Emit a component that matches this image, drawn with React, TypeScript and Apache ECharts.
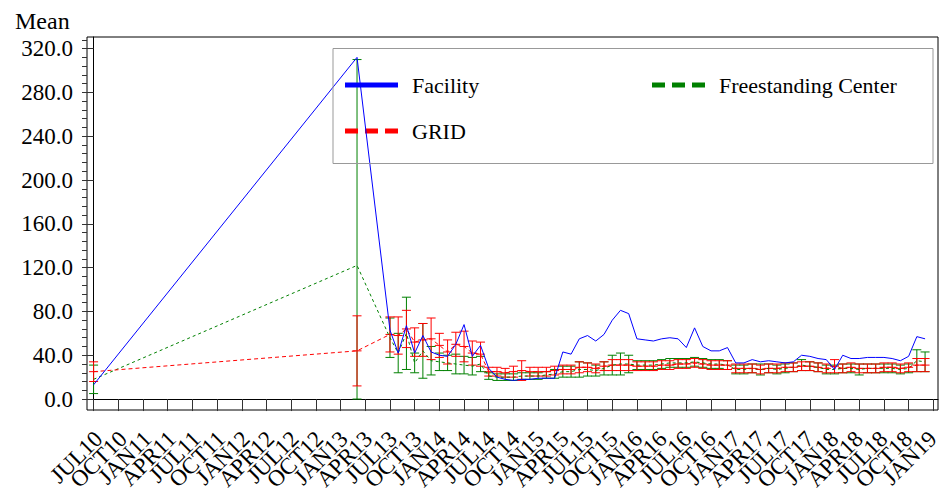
import { useEffect, useRef } from "react";
import * as echarts from "echarts";

// quarterly tick labels, one every three months from JUL10
const quarterLabels = [
  "JUL10", "OCT10",
  "JAN11", "APR11", "JUL11", "OCT11",
  "JAN12", "APR12", "JUL12", "OCT12",
  "JAN13", "APR13", "JUL13", "OCT13",
  "JAN14", "APR14", "JUL14", "OCT14",
  "JAN15", "APR15", "JUL15", "OCT15",
  "JAN16", "APR16", "JUL16", "OCT16",
  "JAN17", "APR17", "JUL17", "OCT17",
  "JAN18", "APR18", "JUL18", "OCT18",
  "JAN19",
];

// months with an observation
const obsMonths = [
  "2010-07", "2013-03",
  "2013-07", "2013-08", "2013-09", "2013-10", "2013-11", "2013-12",
  "2014-01", "2014-02", "2014-03", "2014-04", "2014-05", "2014-06", "2014-07", "2014-08", "2014-09", "2014-10", "2014-11", "2014-12",
  "2015-01", "2015-02", "2015-03", "2015-04", "2015-05", "2015-06", "2015-07", "2015-08", "2015-09", "2015-10", "2015-11", "2015-12",
  "2016-01", "2016-02", "2016-03", "2016-04", "2016-05", "2016-06", "2016-07", "2016-08", "2016-09", "2016-10", "2016-11", "2016-12",
  "2017-01", "2017-02", "2017-03", "2017-04", "2017-05", "2017-06", "2017-07", "2017-08", "2017-09", "2017-10", "2017-11", "2017-12",
  "2018-01", "2018-02", "2018-03", "2018-04", "2018-05", "2018-06", "2018-07", "2018-08", "2018-09", "2018-10", "2018-11", "2018-12",
];

const facility = [
  13, 312,
  63, 42, 67, 42, 58, 43,
  40, 39, 50, 68, 39, 49, 28, 20, 18, 17, 18, 18,
  19, 19, 19, 43, 41, 55, 58, 53, 59, 72, 81, 78,
  55, 54, 53, 55, 56, 55, 47, 65, 48, 44, 44, 47,
  33, 33, 36, 34, 35, 34, 33, 34, 40, 39, 37, 36,
  27, 40, 37, 37, 38, 38, 38, 37, 35, 39, 57, 55,
];

const grid = [
  25, 44,
  59, 58, 64, 52, 54, 55,
  49, 43, 50, 48, 42, 41, 25, 25, 24, 25, 26, 25,
  25, 25, 26, 27, 27, 29, 29, 28, 30, 31, 31, 31,
  30, 30, 30, 31, 31, 32, 32, 33, 32, 31, 31, 31,
  28, 28, 28, 27, 28, 28, 29, 29, 30, 30, 29, 28,
  30, 28, 29, 28, 28, 28, 29, 29, 28, 29, 31, 31,
];
const gridHalf = [
  9, 32,
  16, 17, 17, 13, 15, 19,
  11, 11, 11, 14, 11, 11, 4, 4, 4, 5, 9, 4,
  4, 4, 4, 4, 4, 5, 4, 4, 4, 5, 5, 5,
  4, 4, 4, 4, 4, 4, 4, 4, 4, 4, 4, 4,
  4, 4, 4, 4, 4, 4, 4, 4, 4, 4, 4, 4,
  6, 4, 4, 4, 4, 4, 4, 4, 4, 4, 6, 6,
];

const freestanding = [
  18, 122,
  56, 42, 60, 33, 44, 35,
  34, 33, 32, 31, 30, 32, 21, 20, 20, 20, 21, 21,
  21, 22, 23, 25, 25, 27, 27, 26, 28, 31, 32, 32,
  31, 31, 31, 32, 33, 33, 33, 34, 33, 32, 32, 31,
  27, 27, 28, 27, 28, 27, 28, 29, 31, 30, 29, 27,
  27, 28, 28, 27, 28, 28, 28, 28, 27, 28, 35, 34,
];
const freestandingHalf = [
  13, 188,
  18, 18, 33, 9, 25, 13,
  8, 7, 9, 8, 8, 7, 3, 3, 3, 3, 3, 3,
  3, 3, 4, 5, 5, 7, 6, 5, 6, 9, 10, 8,
  4, 4, 4, 4, 4, 4, 4, 4, 4, 4, 4, 4,
  4, 4, 4, 5, 4, 4, 4, 4, 5, 4, 4, 4,
  4, 4, 4, 5, 4, 4, 4, 4, 4, 4, 10, 9,
];

const yTicks = [0, 40, 80, 120, 160, 200, 240, 280, 320];
const yMinorTicks = [
  0, 8, 16, 24, 32, 40, 48, 56, 64, 72, 80, 88, 96, 104, 112, 120, 128, 136, 144, 152, 160,
  168, 176, 184, 192, 200, 208, 216, 224, 232, 240, 248, 256, 264, 272, 280, 288, 296, 304, 312, 320, 328,
];

const FONT = '"Liberation Serif", "Times New Roman", serif';
const SOLID_ICON = "path://M0,0H53V5H0Z";
const DASH_ICON = "path://M0,0H13V5H0Z M20,0H33V5H20Z M40,0H53V5H40Z";
const X_MIN = -0.8;
const X_MAX = 102.57;

function monthIndex(ym: string) {
  const [y, m] = ym.split("-").map(Number);
  return (y - 2010) * 12 + (m - 7);
}

function errorBars(color: string, withMid: boolean) {
  return (_params: any, api: any) => {
    const x = api.value(0);
    const lo = api.coord([x, api.value(1)]);
    const hi = api.coord([x, api.value(2)]);
    const mid = api.coord([x, api.value(3)]);
    const w = 4.5;
    const style = { stroke: color, lineWidth: 1 };
    const children: any[] = [
      { type: "line", shape: { x1: lo[0], y1: lo[1], x2: hi[0], y2: hi[1] }, style },
      { type: "line", shape: { x1: lo[0] - w, y1: lo[1], x2: lo[0] + w, y2: lo[1] }, style },
      { type: "line", shape: { x1: hi[0] - w, y1: hi[1], x2: hi[0] + w, y2: hi[1] }, style },
    ];
    if (withMid) {
      children.push({ type: "line", shape: { x1: mid[0] - w, y1: mid[1], x2: mid[0] + w, y2: mid[1] }, style });
    }
    return { type: "group", children };
  };
}

function buildOption(): echarts.EChartsOption {
  const xs = obsMonths.map(monthIndex);
  const pairs = (vals: number[]) => xs.map((x, i) => [x, vals[i]]);
  const bars = (vals: number[], half: number[]) =>
    xs.map((x, i) => [x, Math.max(0, vals[i] - half[i]), vals[i] + half[i], vals[i]]);
  const quarterPos = quarterLabels.map((_, k) => k * 3);

  const legendBase = {
    orient: "horizontal" as const,
    padding: 0,
    itemWidth: 53,
    itemHeight: 5,
    selectedMode: false,
    symbolKeepAspect: false,
    textStyle: { fontFamily: FONT, fontSize: 22, color: "#000", padding: [0, 0, 0, 9] },
  };

  return {
    animation: false,
    backgroundColor: "#fff",
    title: {
      text: "Mean",
      left: 10,
      top: 4,
      textStyle: { fontFamily: FONT, fontSize: 24, fontWeight: "normal", color: "#000" },
    },
    grid: [
      {
        left: 87,
        right: 5,
        top: 37,
        bottom: 84,
        show: true,
        borderColor: "#000",
        borderWidth: 1,
        backgroundColor: "transparent",
      },
      // same scale, nudged right: carries only the rotated month labels
      { left: 92, right: 0, top: 37, bottom: 84, show: false },
    ],
    legend: [
      { ...legendBase, data: [{ name: "Facility", icon: SOLID_ICON }], left: 345, top: 74 },
      { ...legendBase, data: [{ name: "Freestanding Center", icon: DASH_ICON }], left: 652, top: 74 },
      { ...legendBase, data: [{ name: "GRID", icon: DASH_ICON }], left: 345, top: 120 },
    ],
    graphic: [
      {
        type: "rect",
        shape: { x: 333, y: 48.5, width: 600, height: 115 },
        style: { fill: "none", stroke: "#999", lineWidth: 1 },
        silent: true,
        z: 10,
      },
    ],
    xAxis: [
      {
        type: "value",
        gridIndex: 0,
        min: X_MIN,
        max: X_MAX,
        axisLine: { show: true, lineStyle: { color: "#000", width: 1 } },
        axisTick: { show: true, length: 12, customValues: quarterPos, lineStyle: { color: "#333" } },
        axisLabel: { show: false },
        splitLine: { show: false },
      },
      {
        type: "value",
        gridIndex: 1,
        min: X_MIN,
        max: X_MAX,
        axisLine: { show: false },
        axisTick: { show: false },
        axisLabel: {
          // blank end labels keep ECharts from dropping JUL10/OCT10 and OCT18/JAN19
          customValues: [X_MIN, ...quarterPos, X_MAX],
          formatter: (v: number) => (v === X_MIN || v === X_MAX ? "" : quarterLabels[Math.round(v / 3)] ?? ""),
          rotate: 45,
          margin: 28,
          fontFamily: FONT,
          fontSize: 23,
          color: "#000",
        },
        splitLine: { show: false },
      },
    ],
    yAxis: [
      {
        type: "value",
        gridIndex: 0,
        min: -10,
        max: 330.6,
        axisLine: { show: true, lineStyle: { color: "#000", width: 1 } },
        axisTick: { show: true, length: 9, customValues: yTicks, lineStyle: { color: "#333" } },
        axisLabel: {
          customValues: yTicks,
          formatter: (v: number) => v.toFixed(1),
          margin: 14,
          fontFamily: FONT,
          fontSize: 23,
          color: "#000",
        },
        splitLine: { show: false },
      },
      {
        type: "value",
        gridIndex: 0,
        min: -10,
        max: 330.6,
        position: "left",
        axisLine: { show: false },
        axisTick: { show: true, length: 5, customValues: yMinorTicks, lineStyle: { color: "#333" } },
        axisLabel: { show: false },
        splitLine: { show: false },
      },
      { type: "value", gridIndex: 1, show: false, min: -10, max: 330.6 },
    ],
    series: [
      {
        name: "Freestanding Center CI",
        type: "custom",
        renderItem: errorBars("#008000", false) as any,
        encode: { x: 0, y: [1, 2] },
        data: bars(freestanding, freestandingHalf),
        clip: true,
        z: 2,
      },
      {
        name: "GRID CI",
        type: "custom",
        renderItem: errorBars("#ff0000", true) as any,
        encode: { x: 0, y: [1, 2] },
        data: bars(grid, gridHalf),
        clip: true,
        z: 2,
      },
      {
        name: "Freestanding Center",
        type: "line",
        data: pairs(freestanding),
        symbol: "none",
        lineStyle: { color: "#008000", width: 1, type: [3, 3] },
        itemStyle: { color: "#008000" },
        z: 3,
      },
      {
        name: "GRID",
        type: "line",
        data: pairs(grid),
        symbol: "none",
        lineStyle: { color: "#ff0000", width: 1, type: [4, 3] },
        itemStyle: { color: "#ff0000" },
        z: 3,
      },
      {
        name: "Facility",
        type: "line",
        data: pairs(facility),
        symbol: "none",
        lineStyle: { color: "#0000ff", width: 1 },
        itemStyle: { color: "#0000ff" },
        z: 4,
      },
    ],
  };
}

export default function App() {
  const nodeRef = useRef<HTMLDivElement | null>(null);

  useEffect(() => {
    if (!nodeRef.current) return;
    const chart = echarts.init(nodeRef.current, undefined, { renderer: "svg" });
    chart.setOption(buildOption());
    return () => chart.dispose();
  }, []);

  return (
    <div
      ref={nodeRef}
      style={{ position: "fixed", left: 0, top: 0, width: 943, height: 494, background: "#fff" }}
    />
  );
}
